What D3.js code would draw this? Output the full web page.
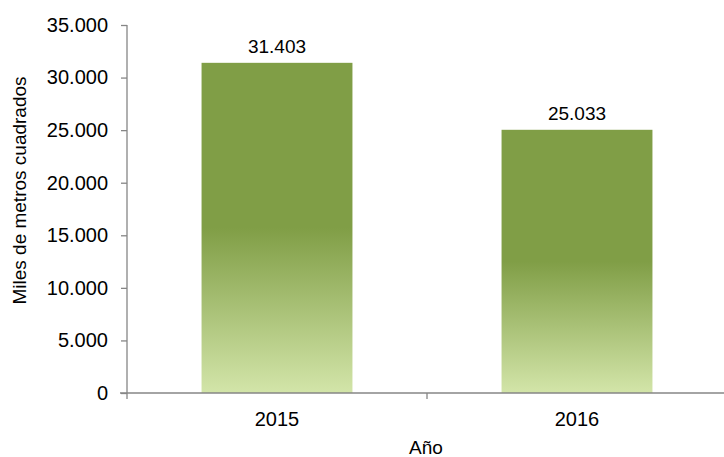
<!DOCTYPE html>
<html><head><meta charset="utf-8">
<script src="https://cdn.jsdelivr.net/npm/d3@7"></script>
<style>body{margin:0;background:#fff}svg{display:block}text{font-family:"Liberation Sans",Arial,sans-serif;fill:#000}</style>
</head><body><svg id="c" width="724" height="457"></svg>
<script>
const categories = ["2015", "2016"];
const values = [31403, 25033];
const yTicks = [0, 5000, 10000, 15000, 20000, 25000, 30000, 35000];

const svg = d3.select("#c");
const FS = 19, FT = 20;
const fmt = v => d3.format(",")(v).replace(/,/g, ".");
const x = d3.scaleBand().domain(categories).range([127, 727]).paddingInner(0.497).paddingOuter(0.2485);
const y = d3.scaleLinear().domain([0, 35000]).range([393, 25]);

const defs = svg.append("defs");
const g = defs.append("linearGradient").attr("id", "grad").attr("x1", 0).attr("y1", 0).attr("x2", 0).attr("y2", 1);
g.append("stop").attr("offset", 0).attr("stop-color", "#809E46");
g.append("stop").attr("offset", 0.5).attr("stop-color", "#809E46");
g.append("stop").attr("offset", 1).attr("stop-color", "#D3E5A9");

svg.selectAll("rect.bar").data(values).join("rect").attr("class", "bar")
  .attr("x", (d, i) => x(categories[i])).attr("width", x.bandwidth())
  .attr("y", d => y(d)).attr("height", d => y(0) - y(d)).attr("fill", "url(#grad)");

// y axis
const ya = svg.append("g").attr("transform", "translate(127,0)")
  .call(d3.axisLeft(y).tickValues(yTicks).tickFormat(fmt).tickSize(6).tickPadding(13));
ya.select(".domain").attr("stroke", "#868686").attr("stroke-width", 1.3).attr("d", "M0," + y(35000) + "V" + y(0));
ya.selectAll(".tick line").attr("stroke", "#868686").attr("stroke-width", 1.3);
ya.selectAll(".tick text").attr("font-size", FT).attr("fill", "#111").style("font-family", '"Liberation Sans",Arial,sans-serif');

// x axis
const xa = svg.append("g").attr("transform", "translate(0," + y(0) + ")");
xa.append("line").attr("x1", 120).attr("x2", 724).attr("stroke", "#868686").attr("stroke-width", 1.5);
const bounds = [127, 427, 727];
xa.selectAll("line.t").data(bounds).join("line").attr("class", "t")
  .attr("x1", d => d).attr("x2", d => d).attr("y1", 0).attr("y2", 6)
  .attr("stroke", "#868686").attr("stroke-width", 1.3);
xa.selectAll("text.c").data(categories).join("text").attr("class", "c")
  .attr("x", d => x(d) + x.bandwidth() / 2).attr("y", 33)
  .attr("text-anchor", "middle").attr("font-size", FT).attr("fill", "#111").text(d => d);

// value labels
svg.selectAll("text.v").data(values).join("text").attr("class", "v")
  .attr("x", (d, i) => x(categories[i]) + x.bandwidth() / 2).attr("y", d => y(d) - 10)
  .attr("text-anchor", "middle").attr("font-size", FS).attr("fill", "#111").text(d => fmt(d));

// axis titles
svg.append("text").attr("x", 426).attr("y", 454).attr("text-anchor", "middle").attr("font-size", FS).attr("fill", "#111").text("Año");
svg.append("text").attr("transform", "translate(26,190.5) rotate(-90)").attr("text-anchor", "middle").attr("font-size", FS).attr("fill", "#111").text("Miles de metros cuadrados");
</script></body></html>
